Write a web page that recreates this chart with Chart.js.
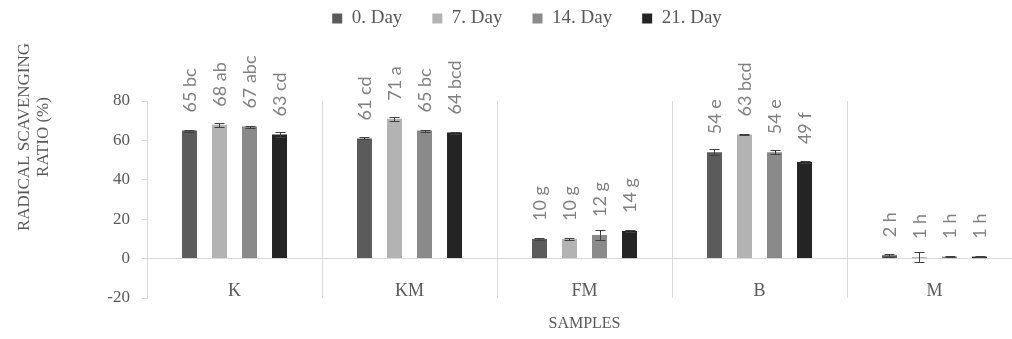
<!DOCTYPE html>
<html>
<head>
<meta charset="utf-8">
<script src="https://cdn.jsdelivr.net/npm/chart.js@4/dist/chart.umd.min.js"></script>
<style>
html,body{margin:0;padding:0;overflow:hidden;background:#fff;width:1012px;height:339px}
#wrap{position:relative;width:1040px;height:339px}
</style>
</head>
<body>
<div id="wrap"><canvas id="c" width="1040" height="339"></canvas></div>
<script>
// ---- data ----
const categories = ['K', 'KM', 'FM', 'B', 'M'];
const seriesNames = ['0. Day', '7. Day', '14. Day', '21. Day'];
const day0  = [65, 61, 10, 54, 1.7];
const day7  = [68, 71, 10, 63, 0.8];
const day14 = [67, 65, 12, 54, 1.0];
const day21 = [63, 64, 14, 49, 1.0];
const err0  = [0.5, 0.5, 0.5, 1.5, 0.8];
const err7  = [1.0, 1.0, 0.5, 0.3, 2.5];
const err14 = [0.5, 0.5, 2.5, 1.0, 0.4];
const err21 = [1.2, 0.5, 0.5, 0.5, 0.4];
const lab0  = ['65 bc', '61 cd', '10 g', '54 e', '2 h'];
const lab7  = ['68 ab', '71 a', '10 g', '63 bcd', '1 h'];
const lab14 = ['67 abc', '65 bc', '12 g', '54 e', '1 h'];
const lab21 = ['63 cd', '64 bcd', '14 g', '49 f', '1 h'];
const yTicks = [-20, 0, 20, 40, 60, 80];
const yTitle = ['RADICAL SCAVENGING', 'RATIO (%)'];
const xTitle = 'SAMPLES';

const colors = ['#5b5b5b', '#b3b3b3', '#8a8a8a', '#242424'];
const values = [day0, day7, day14, day21];
const errors = [err0, err7, err14, err21];
const labels = [lab0, lab7, lab14, lab21];

const serif = 'Liberation Serif';
const textGray = '#595959';

const legendPlugin = {
  id: 'legendTweak',
  beforeLayout(chart) {
    const lg = chart.legend;
    if (lg && !lg._tweaked) {
      const orig = lg.fit;
      lg.fit = function () { orig.call(this); this.height = 101; };
      lg._tweaked = true;
    }
  },
  afterLayout(chart) {
    const lg = chart.legend;
    if (lg) { lg.left += 16; lg.right += 16; lg.top -= 21; lg.bottom -= 21; }
  }
};

const errorBarPlugin = {
  id: 'errorBars',
  afterDatasetsDraw(chart) {
    const ctx = chart.ctx;
    const ys = chart.scales.y;
    ctx.save();
    ctx.strokeStyle = '#404040';
    ctx.lineWidth = 1;
    chart.data.datasets.forEach((ds, i) => {
      const meta = chart.getDatasetMeta(i);
      meta.data.forEach((bar, j) => {
        const v = ds.data[j], e = errors[i][j];
        const x = Math.round(bar.x) + 0.5;
        const yh = Math.round(ys.getPixelForValue(v + e)) + 0.5;
        const yl = Math.round(ys.getPixelForValue(v - e)) + 0.5;
        ctx.beginPath();
        ctx.moveTo(x, yh); ctx.lineTo(x, yl);
        ctx.moveTo(x - 5, yh); ctx.lineTo(x + 5, yh);
        ctx.moveTo(x - 5, yl); ctx.lineTo(x + 5, yl);
        ctx.stroke();
      });
    });
    ctx.restore();
  }
};

const dataLabelPlugin = {
  id: 'dataLabels',
  afterDatasetsDraw(chart) {
    const ctx = chart.ctx;
    const ys = chart.scales.y;
    ctx.save();
    ctx.fillStyle = '#808080';
    ctx.font = '18px Lato';
    ctx.textAlign = 'left';
    ctx.textBaseline = 'middle';
    chart.data.datasets.forEach((ds, i) => {
      const meta = chart.getDatasetMeta(i);
      meta.data.forEach((bar, j) => {
        const y = ys.getPixelForValue(ds.data[j]) - 18;
        ctx.save();
        ctx.translate(bar.x + 1, y);
        ctx.rotate(-Math.PI / 2);
        ctx.fillText(labels[i][j], 0, 0);
        ctx.restore();
      });
    });
    ctx.restore();
  }
};

const yTitlePlugin = {
  id: 'yTitle',
  afterDraw(chart) {
    const ctx = chart.ctx;
    ctx.save();
    ctx.fillStyle = textGray;
    ctx.font = '17px "' + serif + '"';
    ctx.textAlign = 'center';
    ctx.textBaseline = 'middle';
    const xs = [25, 44];
    yTitle.forEach((t, k) => {
      ctx.save();
      ctx.translate(xs[k], 137);
      ctx.rotate(-Math.PI / 2);
      ctx.fillText(t, 0, 0);
      ctx.restore();
    });
    ctx.restore();
  }
};

new Chart(document.getElementById('c'), {
  type: 'bar',
  data: {
    labels: categories,
    datasets: seriesNames.map((n, i) => ({
      label: n,
      data: values[i],
      backgroundColor: colors[i],
      borderWidth: 0,
      categoryPercentage: 0.686,
      barPercentage: 0.5
    }))
  },
  options: {
    responsive: false,
    animation: false,
    devicePixelRatio: 1,
    layout: { padding: { left: 0, right: 18, top: 0, bottom: 41 } },
    plugins: {
      legend: {
        position: 'top',
        labels: {
          boxWidth: 10, boxHeight: 10, padding: 30,
          color: textGray,
          font: { family: serif, size: 19 }
        }
      },
      tooltip: { enabled: false }
    },
    scales: {
      x: {
        position: { y: 0 },
        ticks: { color: textGray, font: { family: serif, size: 18 }, padding: 22 },
        grid: { display: true, drawTicks: false, color: '#d9d9d9', offset: true },
        border: { display: true, color: '#d9d9d9' },
        title: { display: true, text: xTitle, color: textGray, font: { family: serif, size: 16 }, padding: { top: -10, bottom: 0 } }
      },
      y: {
        min: -20, max: 80,
        afterBuildTicks: s => { s.ticks = yTicks.map(v => ({ value: v })); },
        afterFit: s => { s.width = 147; },
        ticks: { color: textGray, font: { family: serif, size: 17 }, padding: 12 },
        grid: { display: true, drawOnChartArea: false, drawTicks: true, tickLength: 5, color: '#d9d9d9' },
        border: { display: true, color: '#d9d9d9' }
      }
    }
  },
  plugins: [legendPlugin, errorBarPlugin, dataLabelPlugin, yTitlePlugin]
});
</script>
</body>
</html>
